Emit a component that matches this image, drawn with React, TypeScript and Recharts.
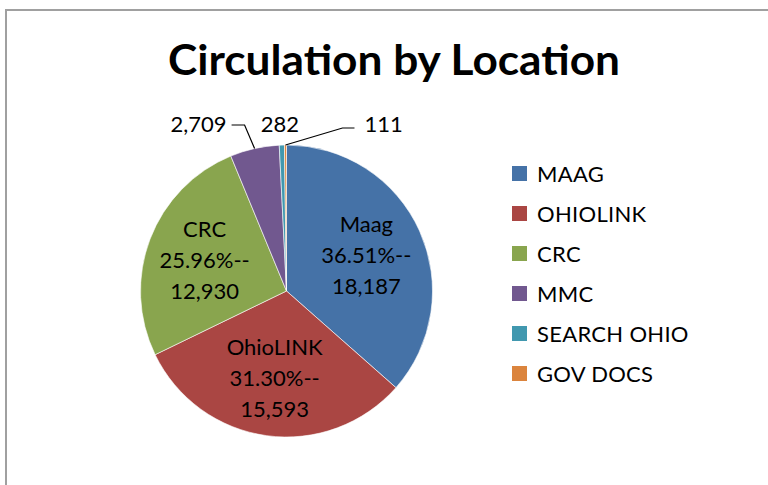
import React from 'react';
import { PieChart, Pie, Cell, Legend } from 'recharts';

// legend names, label names and counts
const locations = ['MAAG', 'OHIOLINK', 'CRC', 'MMC', 'SEARCH OHIO', 'GOV DOCS'];
const labelNames = ['Maag', 'OhioLINK', 'CRC', 'MMC', 'Search Ohio', 'Gov Docs'];
const counts = [18187, 15593, 12930, 2709, 282, 111];
const colors = ['#4572A7', '#AA4643', '#89A54E', '#71588F', '#4198AF', '#DB843D'];

const data = locations.map((name, i) => ({ name, label: labelNames[i], value: counts[i] }));
const total = counts.reduce((a, b) => a + b, 0);

const FONT = 'Lato, "Open Sans", sans-serif';
const RAD = Math.PI / 180;

const renderLabel = (props: any) => {
  const { cx, cy, midAngle, outerRadius, index, value } = props;
  const cos = Math.cos(-midAngle * RAD);
  const sin = Math.sin(-midAngle * RAD);
  const num = value.toLocaleString('en-US');

  if (index < 3) {
    const r = outerRadius * 0.6;
    const x = cx + r * cos;
    const y = cy + r * sin;
    const pct = ((value / total) * 100).toFixed(2) + '%--';
    return (
      <text x={x} y={y} textAnchor="middle" fontFamily={FONT} fontSize={22} fill="#000">
        <tspan x={x} dy={-31 + 8}>{labelNames[index]}</tspan>
        <tspan x={x} dy={31}>{pct}</tspan>
        <tspan x={x} dy={31}>{num}</tspan>
      </text>
    );
  }

  // small slices: labels in a row above the pie with leader lines
  const ex = cx + outerRadius * cos;
  const ey = cy + outerRadius * sin;
  const rowY = cy - outerRadius - 20;
  if (index === 3) {
    return (
      <g>
        <polyline points={`${ex},${ey} ${ex - 10},${rowY} ${ex - 23},${rowY}`} fill="none" stroke="#000" strokeWidth={1.2} />
        <text x={ex - 28} y={rowY + 7} textAnchor="end" fontFamily={FONT} fontSize={22} fill="#000">{num}</text>
      </g>
    );
  }
  if (index === 4) {
    return (
      <text x={ex - 2} y={rowY + 7} textAnchor="middle" fontFamily={FONT} fontSize={22} fill="#000">{num}</text>
    );
  }
  return (
    <g>
      <polyline points={`${ex},${ey} ${ex + 57},${rowY + 3} ${ex + 69},${rowY + 3}`} fill="none" stroke="#000" strokeWidth={1.2} />
      <text x={ex + 79} y={rowY + 7} textAnchor="start" fontFamily={FONT} fontSize={22} fill="#000">{num}</text>
    </g>
  );
};

const renderLegend = () => (
  <div style={{ fontFamily: FONT }}>
    {locations.map((name, i) => (
      <div key={name} style={{ display: 'flex', alignItems: 'center', height: 40 }}>
        <span style={{ display: 'inline-block', width: 15, height: 15, background: colors[i], marginRight: 10 }} />
        <span style={{ fontSize: 22, letterSpacing: 0.3, color: '#000' }}>{name}</span>
      </div>
    ))}
  </div>
);

export default function App() {
  return (
    <div style={{ position: 'absolute', left: 0, top: 0, width: 768, height: 485, overflow: 'hidden', background: '#fff' }}>
      <div style={{ position: 'absolute', left: 5, top: 9, width: 800, height: 520, border: '2px solid #a0a0a0' }} />
      <PieChart width={768} height={485} margin={{ top: 0, right: 0, bottom: 0, left: 0 }}
        style={{ position: 'absolute', left: 0, top: 0 }}>
        <text x={394} y={75} textAnchor="middle" fontFamily={FONT} fontWeight="bold" fontSize={42} fill="#000"
          textLength={452} lengthAdjust="spacingAndGlyphs">
          Circulation by Location
        </text>
        <Pie
          data={data}
          dataKey="value"
          nameKey="name"
          cx={286.5}
          cy={291}
          outerRadius={146}
          startAngle={90}
          endAngle={-270}
          stroke="#ffffff"
          strokeWidth={0.6}
          label={renderLabel}
          labelLine={false}
          isAnimationActive={false}
        >
          {data.map((d, i) => (
            <Cell key={d.name} fill={colors[i]} />
          ))}
        </Pie>
        <Legend
          content={renderLegend}
          layout="vertical"
          wrapperStyle={{ position: 'absolute', left: 512, top: 153, width: 230 }}
        />
      </PieChart>
    </div>
  );
}
